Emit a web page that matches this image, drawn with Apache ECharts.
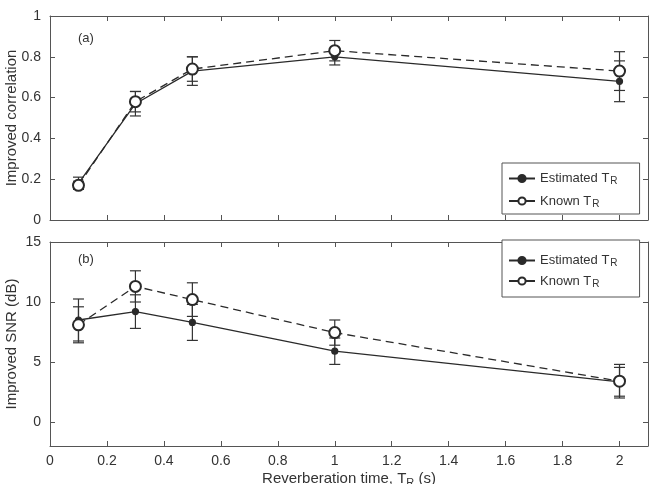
<!DOCTYPE html>
<html><head><meta charset="utf-8">
<script src="https://cdn.jsdelivr.net/npm/echarts@6/dist/echarts.min.js"></script>
<style>html,body{margin:0;padding:0;background:#fff}#c{width:650px;height:484px}</style>
</head><body><div id="c"></div>
<script>
// ---- data ----
const tr = [0.1, 0.3, 0.5, 1.0, 2.0];
const xTicks = [0, 0.2, 0.4, 0.6, 0.8, 1, 1.2, 1.4, 1.6, 1.8, 2];
const corrTicks = [0, 0.2, 0.4, 0.6, 0.8, 1];
const snrTicks = [0, 5, 10, 15];
const corrEst = [0.18, 0.57, 0.73, 0.80, 0.68];
const corrEstErr = [0.03, 0.06, 0.07, 0.04, 0.10];
const corrKnown = [0.17, 0.58, 0.74, 0.83, 0.73];
const corrKnownErr = [0.02, 0.05, 0.06, 0.05, 0.095];
const snrEst = [8.5, 9.2, 8.3, 5.9, 3.35];
const snrEstErr = [1.75, 1.4, 1.5, 1.1, 1.2];
const snrKnown = [8.1, 11.3, 10.2, 7.45, 3.4];
const snrKnownErr = [1.5, 1.3, 1.4, 1.05, 1.4];

const FONT = 'Liberation Sans, Arial, Helvetica, sans-serif';
const INK = '#2a2a2a';
const AX = '#555';

function pts(ys) { return tr.map((x, i) => [x, ys[i]]); }
function bars(ys, es) { return tr.map((x, i) => [x, ys[i] - es[i], ys[i] + es[i]]); }

function errSeries(data, xi, yi) {
  return {
    type: 'custom', xAxisIndex: xi, yAxisIndex: yi, z: 2, silent: true,
    encode: { x: 0, y: [1, 2] },
    data: data,
    renderItem: function (params, api) {
      const x = api.value(0), lo = api.value(1), hi = api.value(2);
      const a = api.coord([x, lo]), b = api.coord([x, hi]);
      const w = 5.5;
      const st = { stroke: '#333', lineWidth: 1.2 };
      return { type: 'group', children: [
        { type: 'line', shape: { x1: a[0], y1: a[1], x2: b[0], y2: b[1] }, style: st },
        { type: 'line', shape: { x1: a[0] - w, y1: a[1], x2: a[0] + w, y2: a[1] }, style: st },
        { type: 'line', shape: { x1: b[0] - w, y1: b[1], x2: b[0] + w, y2: b[1] }, style: st }
      ]};
    }
  };
}

function lineSeries(name, data, xi, yi, known) {
  return {
    name: name, type: 'line', xAxisIndex: xi, yAxisIndex: yi, z: 3,
    data: data,
    symbol: known ? 'emptyCircle' : 'circle',
    symbolSize: known ? 11 : 6,
    itemStyle: { color: INK, borderColor: INK, borderWidth: 1.2 },
    lineStyle: { color: INK, width: 1.3, type: known ? [8, 5] : 'solid' },
    animation: false
  };
}

function xAx(gi, bottom, labels) {
  return {
    type: 'value', gridIndex: gi, position: bottom ? 'bottom' : 'top',
    min: 0, max: 2.1,
    nameMoveOverlap: false,
    axisLine: { show: true, onZero: false, lineStyle: { color: AX, width: 1 } },
    axisTick: { show: true, inside: true, length: 5, customValues: xTicks, lineStyle: { color: AX } },
    axisLabel: { show: labels, customValues: xTicks, margin: 8, color: '#333', fontSize: 14, fontFamily: FONT },
    splitLine: { show: false }
  };
}
function yAx(gi, left, min, max, ticks, labels, name) {
  return {
    type: 'value', gridIndex: gi, position: left ? 'left' : 'right',
    min: min, max: max,
    name: name || '', nameLocation: 'middle', nameGap: 31, nameMoveOverlap: false,
    nameTextStyle: { color: '#333', fontSize: 15, fontFamily: FONT },
    axisLine: { show: true, onZero: false, lineStyle: { color: AX, width: 1 } },
    axisTick: { show: true, inside: true, length: 5, customValues: ticks, lineStyle: { color: AX } },
    axisLabel: { show: labels, customValues: ticks, margin: 9, color: '#333', fontSize: 14, fontFamily: FONT },
    splitLine: { show: false }
  };
}

const legendRich = { s: { fontSize: 10, verticalAlign: 'bottom', padding: [6, 0, 0, 1], color: '#333', fontFamily: FONT } };
function legendFmt(n) { return (n.indexOf('est') === 0 ? 'Estimated T' : 'Known T') + '{s|R}'; }
function legend(left, top, names, gap, pad) {
  return {
    orient: 'vertical', left: left, top: top, data: names,
    borderColor: '#555', borderWidth: 1, padding: pad, itemGap: gap,
    itemWidth: 26, itemHeight: 9, backgroundColor: '#fff',
    formatter: legendFmt,
    textStyle: { color: '#333', fontSize: 13, fontFamily: FONT, rich: legendRich },
    lineStyle: { type: 'solid' },
    selectedMode: false
  };
}

const chart = echarts.init(document.getElementById('c'), null, { renderer: 'canvas' });
chart.setOption({
  animation: false,
  backgroundColor: '#fff',
  grid: [
    { left: 50, right: 2, top: 16, height: 204, outerBoundsMode: 'none', containLabel: false },
    { left: 50, right: 2, top: 242, height: 204, outerBoundsMode: 'none', containLabel: false }
  ],
  xAxis: [
    xAx(0, true, false), xAx(0, false, false),
    Object.assign(xAx(1, true, true), {
      name: 'Reverberation time, T{s|R} (s)', nameLocation: 'middle', nameGap: 23,
      nameTextStyle: { color: '#333', fontSize: 15, fontFamily: FONT,
        rich: { s: { fontSize: 11, verticalAlign: 'bottom', padding: [8, 0, 0, 0], color: '#333', fontFamily: FONT } } }
    }),
    xAx(1, false, false)
  ],
  yAxis: [
    yAx(0, true, 0, 1, corrTicks, true, 'Improved correlation'),
    yAx(0, false, 0, 1, corrTicks, false),
    yAx(1, true, -2, 15, snrTicks, true, 'Improved SNR (dB)'),
    yAx(1, false, -2, 15, snrTicks, false)
  ],
  legend: [
    legend(502, 163, ['estA', 'knownA'], 8, [9, 22, 5, 6]),
    legend(502, 240, ['estB', 'knownB'], 6, [14, 22, 8, 6])
  ],
  graphic: [
    { type: 'text', left: 78, top: 32, style: { text: '(a)', fontSize: 13, fontFamily: FONT, fill: '#333' } },
    { type: 'text', left: 78, top: 253, style: { text: '(b)', fontSize: 13, fontFamily: FONT, fill: '#333' } }
  ],
  series: [
    errSeries(bars(corrEst, corrEstErr), 0, 0),
    errSeries(bars(corrKnown, corrKnownErr), 0, 0),
    lineSeries('estA', pts(corrEst), 0, 0, false),
    lineSeries('knownA', pts(corrKnown), 0, 0, true),
    errSeries(bars(snrEst, snrEstErr), 2, 2),
    errSeries(bars(snrKnown, snrKnownErr), 2, 2),
    lineSeries('estB', pts(snrEst), 2, 2, false),
    lineSeries('knownB', pts(snrKnown), 2, 2, true)
  ]
});
</script>
</body></html>
